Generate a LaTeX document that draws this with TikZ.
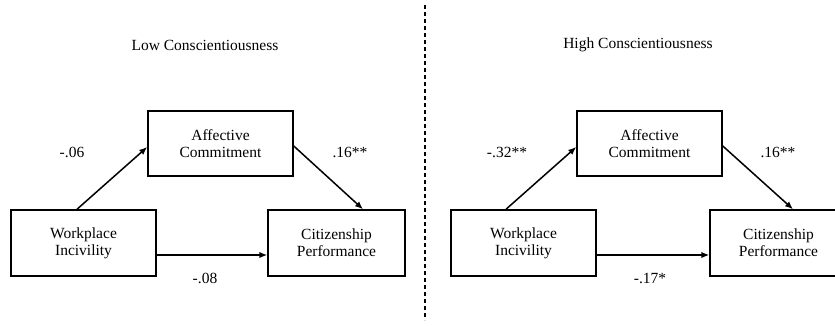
\documentclass[tikz,border=0pt]{standalone}
\usepackage{fontspec}
\setmainfont{Liberation Serif}
\usetikzlibrary{arrows.meta}

\begin{document}
\begin{tikzpicture}[
	x=1pt, y=-1pt,
	varbox/.style={ draw, line width=1.5pt, align=center, inner sep=0pt, minimum width=145pt, minimum height=65pt, font=\fontsize{15.5}{17}\selectfont },
	coef/.style={ font=\fontsize{15.5}{17}\selectfont, inner sep=0pt },
	path/.style={ line width=1.5pt, -{Latex[length=8pt,width=6.5pt]} },
]
\clip (0,0) rectangle (835,325);

% low conscientiousness
\node at (205,45) (lowtitle) [coef] {Low Conscientiousness};
\node at (220.5,143.5) (ac1) [varbox] {Affective\\Commitment};
\node at (83.5,243) (wi1) [varbox,minimum height=66pt] {Workplace\\Incivility};
\node at (336.5,243) (cp1) [varbox,minimum width=137pt,minimum height=66pt] {Citizenship\\Performance};
\draw[path] ([xshift=-6.5pt]wi1.north) to ([yshift=-3.5pt]ac1.west);
\draw[path] ([yshift=-2.5pt]ac1.east) to ([xshift=26.5pt]cp1.north);
\draw[path] ([yshift=-12pt]wi1.east) to ([yshift=-12pt]cp1.west);
\node at (72,152) (a1) [coef] {-.06};
\node at (350,152) (b1) [coef] {.16**};
\node at (205,278) (c1) [coef] {-.08};

% divider
\coordinate (divtop) at (425,5);
\coordinate (divbot) at (425,320);
\draw[line width=1.5pt, dash pattern=on 4pt off 3pt] (divtop) -- (divbot);

% high conscientiousness
\node at (638,45) (hightitle) [coef] {High Conscientiousness};
\node at (649.5,143.5) (ac2) [varbox] {Affective\\Commitment};
\node at (523.5,243) (wi2) [varbox,minimum height=66pt] {Workplace\\Incivility};
\node at (778.5,243) (cp2) [varbox,minimum width=137pt,minimum height=66pt] {Citizenship\\Performance};
\draw[path] ([xshift=-17.5pt]wi2.north) to ([yshift=-3.5pt]ac2.west);
\draw[path] ([yshift=-2.5pt]ac2.east) to ([xshift=14.5pt]cp2.north);
\draw[path] ([yshift=-12pt]wi2.east) to ([yshift=-12pt]cp2.west);
\node at (507,152) (a2) [coef] {-.32**};
\node at (778,152) (b2) [coef] {.16**};
\node at (650,278) (c2) [coef] {-.17*};

\end{tikzpicture}
\end{document}
